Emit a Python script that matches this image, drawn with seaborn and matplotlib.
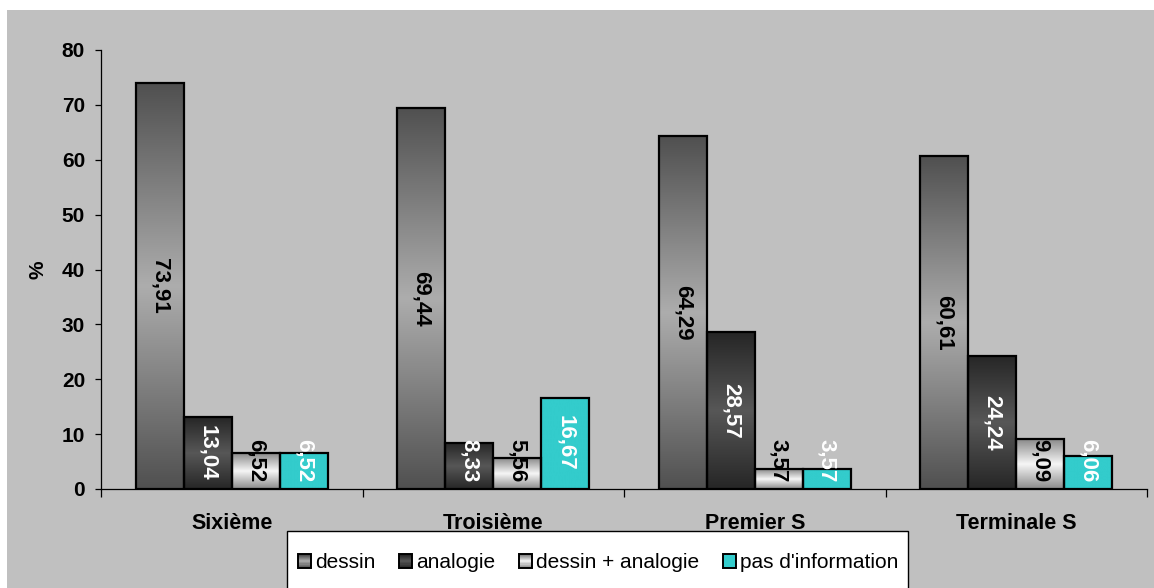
import numpy as np
import pandas as pd
import matplotlib
matplotlib.use("Agg")
import matplotlib.pyplot as plt
from matplotlib.colors import to_rgb
from matplotlib.patches import Rectangle
from matplotlib.legend_handler import HandlerBase
import seaborn as sns

# ---- data -------------------------------------------------------------
niveaux = ["Sixième", "Troisième", "Premier S", "Terminale S"]
series = ["dessin", "analogie", "dessin + analogie", "pas d'information"]
dessin = [73.91, 69.44, 64.29, 60.61]
analogie = [13.04, 8.33, 28.57, 24.24]
dessin_analogie = [6.52, 5.56, 3.57, 9.09]
pas_information = [6.52, 16.67, 3.57, 6.06]
y_ticks = [0, 10, 20, 30, 40, 50, 60, 70, 80]

valeurs = {
    "dessin": dessin,
    "analogie": analogie,
    "dessin + analogie": dessin_analogie,
    "pas d'information": pas_information,
}

df = pd.DataFrame(
    [(niv, s, v) for s in series for niv, v in zip(niveaux, valeurs[s])],
    columns=["niveau", "serie", "pourcentage"],
)

# fill: (colour at top/bottom edge, colour at the middle)
gradients = {
    "dessin": ("#505050", "#adadad"),
    "analogie": ("#262626", "#575757"),
    "dessin + analogie": ("#8a8a8a", "#f6f6f6"),
    "pas d'information": ("#33cccc", "#33cccc"),
}
label_colors = {
    "dessin": "black",
    "analogie": "white",
    "dessin + analogie": "black",
    "pas d'information": "white",
}

plt.rcParams["font.family"] = ["Liberation Sans", "DejaVu Sans"]

W, H = 1154, 588
fig = plt.figure(figsize=(W / 100, H / 100), dpi=100, facecolor="white")
fig.add_artist(Rectangle((7 / W, 0), 1, 1 - 10 / H, transform=fig.transFigure,
                         facecolor="#c0c0c0", edgecolor="none", zorder=-10))

ax = fig.add_axes([101 / W, 1 - 489 / H, 1046 / W, 439 / H])
ax.set_facecolor("none")

sns.barplot(data=df, x="niveau", y="pourcentage", hue="serie",
            order=niveaux, hue_order=series, width=0.734,
            palette=[gradients[s][0] for s in series], saturation=1,
            edgecolor="black", linewidth=1.6, legend=False, ax=ax, zorder=3)


def gradient_column(edge, center, n=256):
    e = np.array(to_rgb(edge))
    c = np.array(to_rgb(center))
    t = np.linspace(0, 1, n)
    w = 1 - np.abs(2 * t - 1)
    return (e[None, :] + (c - e)[None, :] * w[:, None])[:, None, :]


for serie, cont in zip(series, ax.containers):
    edge, center = gradients[serie]
    img = gradient_column(edge, center)
    for patch, v in zip(cont.patches, valeurs[serie]):
        x0, w, h = patch.get_x(), patch.get_width(), patch.get_height()
        im = ax.imshow(img, extent=[x0, x0 + w, 0, h], origin="lower",
                       aspect="auto", zorder=2.5, interpolation="bilinear")
        im.set_clip_path(patch)
        patch.set_facecolor("none")
        ax.text(x0 + w / 2, max(h / 2, 5.1), f"{v:.2f}".replace(".", ","),
                rotation=-90, ha="center", va="center", fontsize=16,
                fontweight="bold", color=label_colors[serie], zorder=5)

ax.set_xlim(-0.5, len(niveaux) - 0.5)
ax.set_ylim(0, 80)
ax.set_yticks(y_ticks)
ax.set_yticklabels([str(t) for t in y_ticks], fontsize=15, fontweight="bold")
ax.set_xticks(np.arange(len(niveaux) + 1) - 0.5)
ax.set_xticklabels([])
ax.set_xticks(np.arange(len(niveaux)), minor=True)
ax.set_xticklabels(niveaux, minor=True, fontsize=15.5, fontweight="bold")
ax.tick_params(axis="x", which="major", length=5.5, width=0.9, direction="out")
ax.tick_params(axis="x", which="minor", length=0, pad=17)
ax.tick_params(axis="y", length=4.5, width=0.9, direction="out", pad=7)
for side in ("top", "right"):
    ax.spines[side].set_visible(False)
for side in ("left", "bottom"):
    ax.spines[side].set_linewidth(0.9)
    ax.spines[side].set_zorder(6)
ax.set_xlabel("")
ax.set_ylabel("%", fontsize=15, fontweight="bold")
ax.yaxis.set_label_coords((47 - 101) / 1046, 0.5)


# ---- legend ------------------------------------------------------------
class GradientSquare(HandlerBase):
    def __init__(self, edge, center):
        super().__init__()
        self.edge, self.center = edge, center

    def create_artists(self, legend, orig_handle, xdescent, ydescent,
                       width, height, fontsize, trans):
        col = gradient_column(self.edge, self.center, n=12)[:, 0, :]
        x, y = -xdescent, -ydescent
        step = height / len(col)
        arts = [Rectangle((x, y + i * step), width, step, facecolor=c,
                          edgecolor="none", transform=trans)
                for i, c in enumerate(col)]
        arts.append(Rectangle((x, y), width, height, facecolor="none",
                              edgecolor="black", linewidth=1.4, transform=trans))
        return arts


fig.add_artist(Rectangle((287 / W, -0.2), (908 - 287) / W, 0.2 + 1 - 531 / H,
                         transform=fig.transFigure, facecolor="white",
                         edgecolor="black", linewidth=1.0, zorder=1))
handles = [Rectangle((0, 0), 1, 1) for _ in series]
leg = fig.legend(handles, series, loc="center left",
                 bbox_to_anchor=(283 / W, 1 - 563 / H), ncol=4, frameon=False,
                 fontsize=15, handlelength=0.62, handleheight=0.62,
                 handletextpad=0.2, columnspacing=1.15, borderpad=0.2,
                 handler_map={h: GradientSquare(*gradients[s])
                              for h, s in zip(handles, series)})
leg.set_zorder(2)

fig.savefig("out.png", dpi=100, facecolor="white")
